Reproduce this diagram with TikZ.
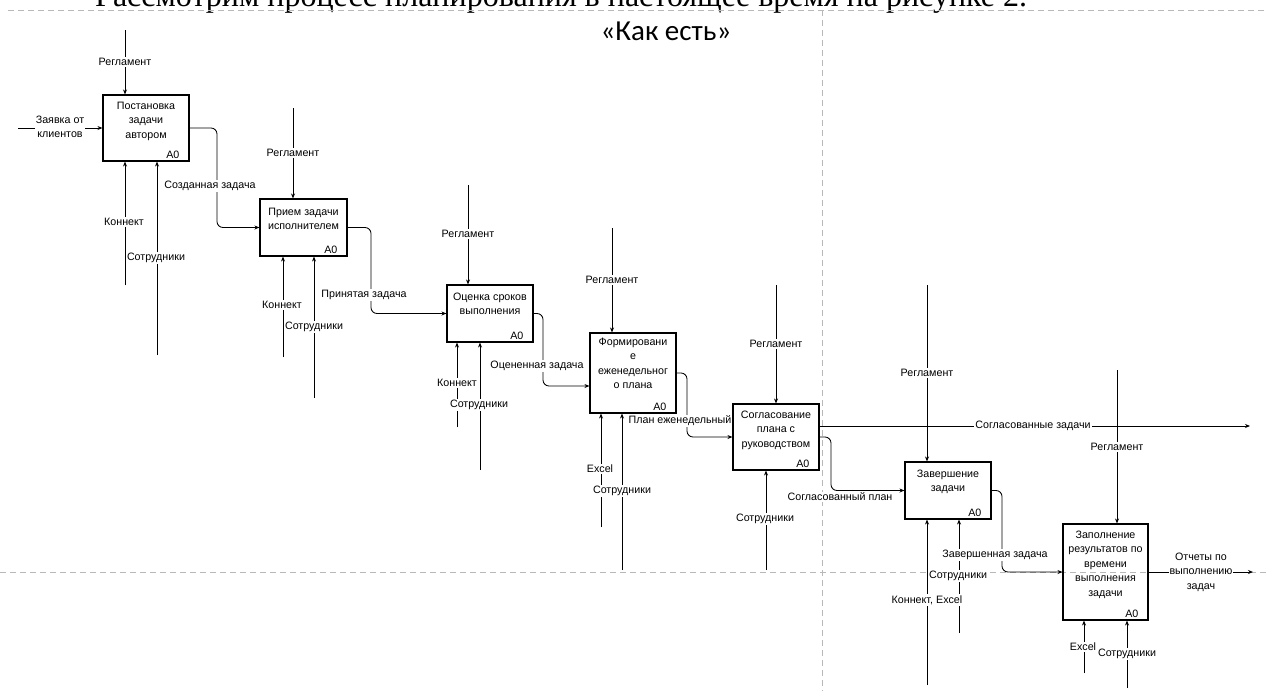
\documentclass[tikz,border=0pt]{standalone}
\usepackage{fontspec}
\setmainfont{Liberation Sans}
\newfontfamily\hdrfont{Carlito}
\newfontfamily\serffont{Liberation Serif}
\usetikzlibrary{arrows.meta}
\newcommand\dgsize{\fontsize{10.7}{14.5}\selectfont}
\begin{document}
\begin{tikzpicture}[x=1pt,y=-1pt,
  box/.style={draw, line width=1.1pt, inner sep=0pt},
  btxt/.style={anchor=north, align=center, font=\dgsize, inner sep=0pt},
  azero/.style={anchor=south east, font=\dgsize, inner sep=0pt},
  lbl/.style={fill=white, font=\dgsize, inner sep=1pt, align=center},
  flow/.style={line width=0.85pt, rounded corners=6pt, -{Stealth[length=5pt,width=4pt]}},
  guide/.style={draw=black!28, dash pattern=on 6pt off 4pt, line width=0.7pt}]
\useasboundingbox (0,0) rectangle (1267,691);
% page text (cut off) and guides
\node[anchor=base west, inner sep=0pt] (toptext) at (95,6) {\resizebox{932pt}{!}{\serffont\fontsize{30}{30}\selectfont Рассмотрим процесс планирования в настоящее время на рисунке 2.}};
\coordinate (g1a) at (8,10); \coordinate (g1b) at (1267,10);
\coordinate (g2a) at (0,572); \coordinate (g2b) at (1267,572);
\coordinate (g3a) at (822,10); \coordinate (g3b) at (822,691);
\draw[guide] (g1a) -- (g1b);
\draw[guide] (g2a) -- (g2b);
\draw[guide] (g3a) -- (g3b);
\node[font=\hdrfont\fontsize{29}{29}\selectfont, inner sep=0pt, anchor=base] (hdr) at (666,40) {«Как есть»};

% boxes
\node[box, minimum width=86pt, minimum height=66pt] (b1) at (146,128) {};
\node[box, minimum width=87pt, minimum height=57pt] (b2) at (303.5,227.5) {};
\node[box, minimum width=86pt, minimum height=57pt] (b3) at (490,313.5) {};
\node[box, minimum width=86pt, minimum height=80pt] (b4) at (633,373) {};
\node[box, minimum width=86pt, minimum height=66pt] (b5) at (776,437) {};
\node[box, minimum width=86pt, minimum height=57pt] (b6) at (948,490.5) {};
\node[box, minimum width=85pt, minimum height=96pt] (b7) at (1105.5,572) {};

\node[btxt] (t1) at ([yshift=-7pt]b1.north) {Постановка\\задачи\\автором};
\node[btxt] (t2) at ([yshift=-9pt]b2.north) {Прием задачи\\исполнителем};
\node[btxt] (t3) at ([yshift=-8pt]b3.north) {Оценка сроков\\выполнения};
\node[btxt] (t4) at ([yshift=-5pt]b4.north) {Формировани\\е\\еженедельног\\о плана};
\node[btxt] (t5) at ([yshift=-7pt]b5.north) {Согласование\\плана с\\руководством};
\node[btxt] (t6) at ([yshift=-8pt]b6.north) {Завершение\\задачи};
\node[btxt] (t7) at ([yshift=-7pt]b7.north) {Заполнение\\результатов по\\времени\\выполнения\\задачи};

\foreach \b in {b1,b2,b3,b4,b5,b6,b7}{
  \node[azero] (a\b) at ([xshift=-10pt,yshift=3pt]\b.south east) {A0};
}

% controls
\coordinate (r1) at (125,30);
\coordinate (r2) at (293,108);
\coordinate (r3) at (468,185);
\coordinate (r4) at (612,228);
\coordinate (r5) at (776,285);
\coordinate (r6) at (927,285);
\coordinate (r7) at (1117,370);
\draw[flow] (r1) -- (r1 |- b1.north);
\draw[flow] (r2) -- (r2 |- b2.north);
\draw[flow] (r3) -- (r3 |- b3.north);
\draw[flow] (r4) -- (r4 |- b4.north);
\draw[flow] (r5) -- (r5 |- b5.north);
\draw[flow] (r6) -- (r6 |- b6.north);
\draw[flow] (r7) -- (r7 |- b7.north);

% mechanisms
\coordinate (m1a) at (125,285);  \coordinate (m1b) at (157,355);
\coordinate (m2a) at (283,357);  \coordinate (m2b) at (314,398);
\coordinate (m3a) at (457,427);  \coordinate (m3b) at (480,470);
\coordinate (m4a) at (601,527);  \coordinate (m4b) at (622,570);
\coordinate (m5a) at (766,570);
\coordinate (m6a) at (927,685);  \coordinate (m6b) at (959,633);
\coordinate (m7a) at (1084,673); \coordinate (m7b) at (1127,688);
\foreach \m/\b in {m1a/b1,m1b/b1,m2a/b2,m2b/b2,m3a/b3,m3b/b3,m4a/b4,m4b/b4,m5a/b5,m6a/b6,m6b/b6,m7a/b7,m7b/b7}{
  \draw[flow] (\m) -- (\m |- \b.south);
}

% input
\coordinate (in1) at (18,128);
\draw[flow] (in1) -- (b1.west);

% outputs
\coordinate (k1) at (217,180);
\coordinate (k2) at (371,270);
\coordinate (k3) at (543,350);
\coordinate (k4) at (687,405);
\coordinate (k5) at (831,465);
\coordinate (k6) at (1002,530);
\coordinate (oz) at (1250,426);
\coordinate (ot) at (1253,572);
\draw[flow] (b1.east) -| (k1) |- (b2.west);
\draw[flow] (b2.east) -| (k2) |- (b3.west);
\draw[flow] (b3.east) -| (k3) |- ([yshift=-13pt]b4.west);
\draw[flow] (b4.east) -| (k4) |- (b5.west);
\draw[flow] ([yshift=11pt]b5.east) -- (oz);
\draw[flow] (b5.east) -| (k5) |- (b6.west);
\draw[flow] (b6.east) -| (k6) |- (b7.west);
\draw[flow] (b7.east) -- (ot);

% labels
\node[lbl] (lr1) at (125,62) {Регламент};
\node[lbl] (lr2) at (293,153) {Регламент};
\node[lbl] (lr3) at (468,234) {Регламент};
\node[lbl] (lr4) at (612,280) {Регламент};
\node[lbl] (lr5) at (776,344) {Регламент};
\node[lbl] (lr6) at (927,373) {Регламент};
\node[lbl] (lr7) at (1117,447) {Регламент};

\node[lbl] (lm1a) at (124,222) {Коннект};
\node[lbl] (lm1b) at (156,258) {Сотрудники};
\node[lbl] (lm2a) at (282,305) {Коннект};
\node[lbl] (lm2b) at (314,327) {Сотрудники};
\node[lbl] (lm3a) at (457,383) {Коннект};
\node[lbl] (lm3b) at (479,405) {Сотрудники};
\node[lbl] (lm4a) at (600,469) {Excel};
\node[lbl] (lm4b) at (622,491) {Сотрудники};
\node[lbl] (lm5a) at (765,519) {Сотрудники};
\node[lbl] (lm6b) at (958,576) {Сотрудники};
\node[lbl] (lm6a) at (927,600) {Коннект, Excel};
\node[lbl] (lm7a) at (1083,647) {Excel};
\node[lbl] (lm7b) at (1127,654) {Сотрудники};

\node[lbl] (lin1) at (60,127) {Заявка от\\клиентов};
\node[lbl] (lo1) at (210,186) {Созданная задача};
\node[lbl] (lo2) at (364,295) {Принятая задача};
\node[lbl] (lo3) at (537,366) {Оцененная задача};
\node[lbl] (lo4) at (680,421) {План еженедельный};
\node[lbl] (lo5) at (1033,426) {Согласованные задачи};
\node[lbl] (lo6) at (840,497) {Согласованный план};
\node[lbl] (lo7) at (995,555) {Завершенная задача};
\node[lbl] (lo8) at (1201,572) {Отчеты по\\выполнению\\задач};
\end{tikzpicture}
\end{document}
